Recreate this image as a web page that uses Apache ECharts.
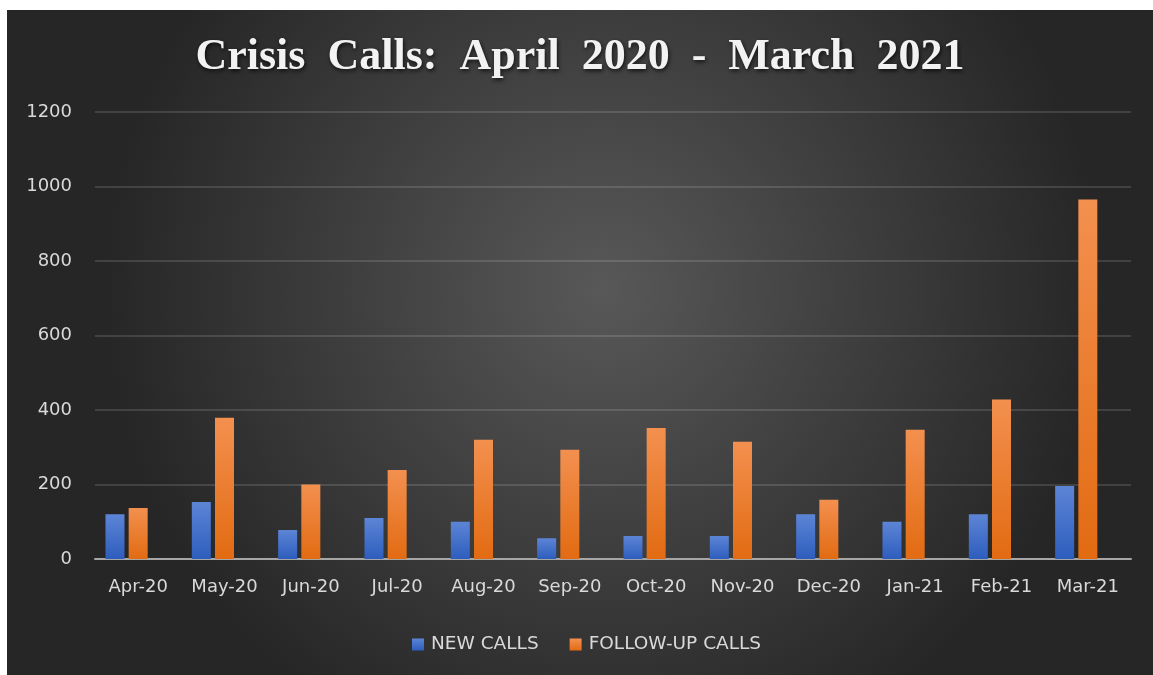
<!DOCTYPE html>
<html lang="en">
<head>
    <meta charset="UTF-8">
    <title>Crisis Calls</title>
    <style>
        html, body {
            margin: 0;
            padding: 0;
            background-color: #ffffff;
        }
        #chart {
            position: absolute;
            left: 7px;
            top: 10px;
            width: 1146px;
            height: 665px;
        }
    </style>
</head>
<body>
<div id="chart"></div>
<script src="https://cdn.jsdelivr.net/npm/echarts@6/dist/echarts.min.js"></script>
<script>
    /* months */
    var months = ['Apr-20', 'May-20', 'Jun-20', 'Jul-20', 'Aug-20', 'Sep-20', 'Oct-20', 'Nov-20', 'Dec-20', 'Jan-21', 'Feb-21', 'Mar-21'];
    /* new calls */
    var newCalls = [120, 153, 78, 110, 100, 56, 62, 62, 120, 100, 120, 196];
    /* follow-up calls */
    var followUpCalls = [137, 379, 200, 239, 320, 293, 352, 315, 159, 347, 428, 965];
    /* y axis */
    var yMin = 0;
    var yMax = 1200;
    var yStep = 200;

    var chart = echarts.init(document.getElementById('chart'));
    var labelFont = 'DejaVu Sans';

    var option = {
        backgroundColor: new echarts.graphic.RadialGradient(0.52, 0.42, 0.75, [
            {offset: 0, color: '#585858'},
            {offset: 1, color: '#262626'}
        ]),
        title: {
            text: 'Crisis  Calls:  April  2020  -  March  2021',
            left: 'center',
            top: 21,
            textStyle: {
                fontFamily: 'Liberation Serif',
                fontWeight: 'bold',
                fontSize: 44,
                color: '#f2f2f2',
                textShadowColor: 'rgba(0,0,0,0.75)',
                textShadowBlur: 4,
                textShadowOffsetX: 1,
                textShadowOffsetY: 2
            }
        },
        legend: {
            data: ['NEW CALLS', 'FOLLOW-UP CALLS'],
            left: 400,
            top: 620,
            itemWidth: 12,
            itemHeight: 12,
            itemGap: 31,
            icon: 'rect',
            textStyle: {
                fontFamily: labelFont,
                fontSize: 18.5,
                color: '#d9d9d9',
                padding: [0, 0, 0, 2]
            }
        },
        grid: {
            left: 88,
            right: 22,
            top: 102,
            bottom: 116,
            containLabel: false
        },
        xAxis: {
            type: 'category',
            data: months,
            axisTick: {show: false},
            axisLine: {
                show: true,
                lineStyle: {color: '#a6a6a6', width: 2}
            },
            axisLabel: {
                interval: 0,
                margin: 19,
                fontFamily: labelFont,
                fontSize: 18,
                color: '#d9d9d9'
            }
        },
        yAxis: {
            type: 'value',
            min: yMin,
            max: yMax,
            interval: yStep,
            axisLine: {show: false},
            axisTick: {show: false},
            axisLabel: {
                margin: 23,
                fontFamily: labelFont,
                fontSize: 18,
                color: '#d9d9d9',
                formatter: function (v) { return String(v); }
            },
            splitLine: {
                show: true,
                lineStyle: {color: 'rgba(255,255,255,0.13)', width: 2}
            }
        },
        series: [
            {
                name: 'NEW CALLS',
                type: 'bar',
                barWidth: 19,
                barGap: '22%',
                itemStyle: {
                    color: new echarts.graphic.LinearGradient(0, 0, 0, 1, [
                        {offset: 0, color: '#5d85d6'},
                        {offset: 1, color: '#2d5dbd'}
                    ]),
                    shadowColor: 'rgba(0,0,0,0.45)',
                    shadowBlur: 4,
                    shadowOffsetX: 1,
                    shadowOffsetY: 1
                },
                data: newCalls
            },
            {
                name: 'FOLLOW-UP CALLS',
                type: 'bar',
                barWidth: 19,
                barGap: '22%',
                itemStyle: {
                    color: new echarts.graphic.LinearGradient(0, 0, 0, 1, [
                        {offset: 0, color: '#f3904f'},
                        {offset: 1, color: '#e26b12'}
                    ]),
                    shadowColor: 'rgba(0,0,0,0.45)',
                    shadowBlur: 4,
                    shadowOffsetX: 1,
                    shadowOffsetY: 1
                },
                data: followUpCalls
            },
            {
                // empty slot so the bar pair sits left of the label, as in the original
                name: 'spacer',
                type: 'bar',
                barWidth: 19,
                barGap: '22%',
                silent: true,
                data: months.map(function () { return '-'; })
            }
        ]
    };
    chart.setOption(option);
</script>
</body>
</html>
